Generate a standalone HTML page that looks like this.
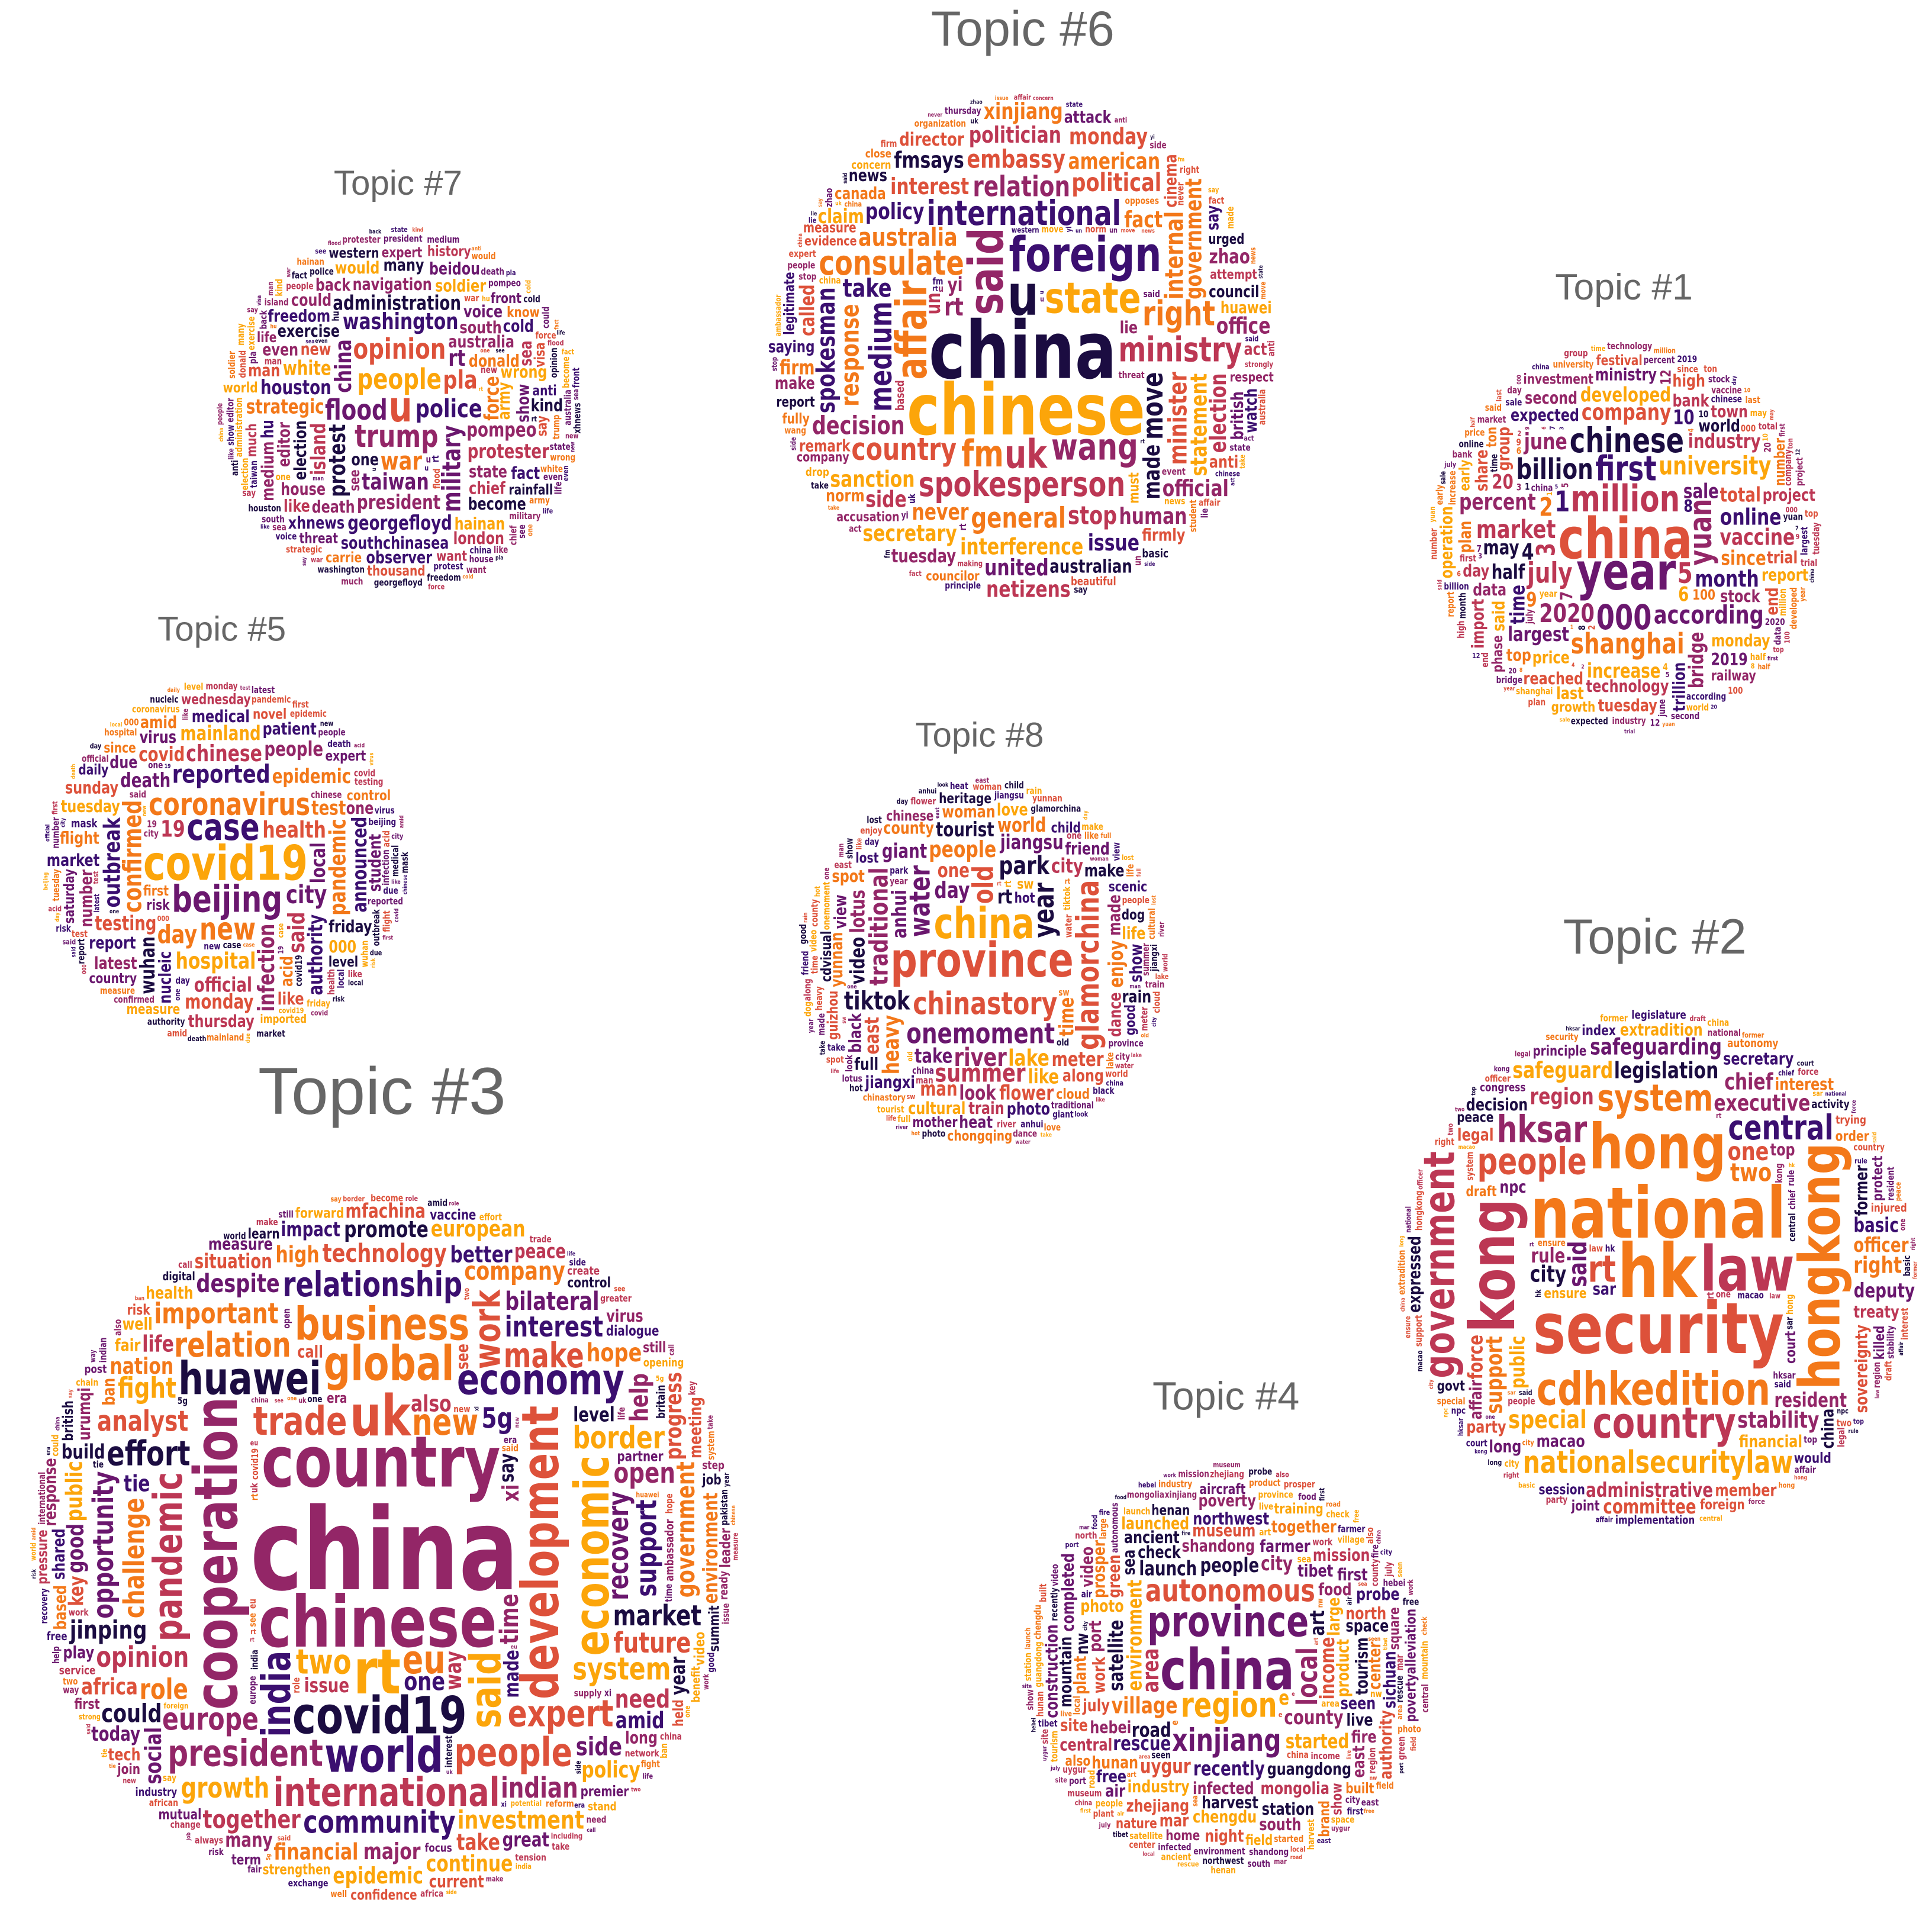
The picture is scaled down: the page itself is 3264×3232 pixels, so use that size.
<!DOCTYPE html>
<html>
<head>
<meta charset="utf-8">
<style>
html,body{margin:0;padding:0;background:#fff;}
#wrap{position:relative;width:3264px;height:3232px;overflow:hidden;background:#fff;}
svg{display:block;}
</style>
</head>
<body>
<div id="wrap">
<svg id="chart" width="3264" height="3232" viewBox="0 0 3264 3232" xmlns="http://www.w3.org/2000/svg"></svg>
</div>
<script>
// ---- data: word weights (display-scale font sizes) per topic ----
const topic6Words = [["china",56],["chinese",50],["u",40],["said",34],["foreign",34],["state",30],["affair",30],["uk",28],["fm",26],["wang",26],["spokesperson",24],["international",24],["consulate",24],["ministry",24],["right",24],["country",22],["medium",22],["relation",20],["general",20],["move",20],["response",18],["australia",18],["embassy",18],["minister",18],["internal",18],["political",18],["rt",18],["stop",18],["decision",18],["take",18],["spokesman",18],["interest",16],["statement",16],["interference",16],["fact",16],["policy",16],["never",16],["made",16],["sanction",16],["government",16],["election",16],["american",16],["fmsays",16],["politician",16],["secretary",16],["human",16],["side",16],["issue",16],["united",16],["official",16],["xinjiang",16],["monday",16],["australian",16],["office",16],["netizens",16],["director",16],["tuesday",16],["council",14],["evidence",14],["remark",14],["attempt",14],["canada",14],["claim",14],["huawei",14],["zhao",14],["saying",14],["accusation",14],["company",14],["yi",14],["firm",14],["called",14],["respect",14],["councilor",14],["un",14],["cinema",12],["british",12],["firmly",12],["make",12],["attack",12],["urged",12],["organization",12],["norm",12],["news",12],["report",12],["measure",12],["legitimate",12],["anti",12],["beautiful",12],["concern",12],["watch",12],["act",12],["opposes",12],["people",12],["everydayhero",12],["thursday",12],["lie",12],["say",12],["principle",12],["must",10],["based",10],["strongly",10],["student",10],["fully",10],["expert",10],["close",10],["western",10],["ambassador",10],["wednesday",10],["basic",10],["threat",10],["event",10],["drop",10],["making",10]];
const topic7Words = [["u",30],["trump",22],["people",20],["opinion",20],["flood",20],["police",18],["war",18],["military",18],["pla",18],["protest",16],["washington",16],["taiwan",16],["china",16],["rt",16],["president",14],["administration",14],["pompeo",14],["georgefloyd",14],["houston",14],["protester",14],["strategic",14],["island",14],["white",14],["force",14],["donald",12],["australia",12],["state",12],["new",12],["exercise",12],["election",12],["navigation",12],["southchinasea",12],["death",12],["south",12],["chief",12],["army",12],["house",12],["wrong",12],["become",12],["editor",12],["voice",12],["show",12],["one",12],["freedom",12],["hainan",12],["soldier",12],["xhnews",12],["even",12],["could",12],["many",12],["fact",12],["hu",12],["observer",12],["medium",12],["man",12],["back",12],["like",12],["london",12],["cold",12],["would",12],["kind",12],["sea",12],["beidou",12],["rainfall",10],["see",10],["much",10],["say",10],["anti",10],["threat",10],["expert",10],["thousand",10],["want",10],["front",10],["visa",10],["life",10],["carrie",10],["know",10],["history",10],["world",10],["western",10]];
const topic1Words = [["china",40],["year",36],["million",26],["first",24],["000",24],["chinese",24],["yuan",22],["shanghai",20],["july",20],["billion",20],["5",20],["1",20],["university",18],["according",18],["2020",18],["market",18],["3",18],["2",18],["month",16],["company",16],["percent",16],["vaccine",16],["online",16],["june",16],["4",16],["6",14],["largest",14],["sale",14],["since",14],["total",14],["increase",14],["industry",14],["half",14],["bridge",14],["developed",14],["time",14],["may",14],["10",14],["9",14],["20",14],["technology",12],["expected",12],["price",12],["stock",12],["world",12],["data",12],["group",12],["monday",12],["bank",12],["reached",12],["second",12],["said",12],["ministry",12],["day",12],["report",12],["tuesday",12],["trial",12],["trillion",12],["plan",12],["2019",12],["share",12],["project",12],["operation",12],["import",12],["end",12],["8",12],["7",12],["top",12],["town",12],["high",12],["last",12],["investment",10],["number",10],["phase",10],["100",10],["railway",10],["ton",10],["12",10],["festival",10],["growth",10],["early",10]];
const topic5Words = [["covid19",34],["case",26],["beijing",26],["coronavirus",22],["new",22],["confirmed",18],["reported",18],["city",18],["day",18],["health",16],["pandemic",16],["infection",16],["hospital",16],["outbreak",16],["chinese",16],["19",16],["said",16],["epidemic",14],["testing",14],["death",14],["authority",14],["official",14],["test",14],["wuhan",14],["people",14],["mainland",14],["covid",14],["monday",14],["announced",14],["local",14],["report",12],["tuesday",12],["friday",12],["patient",12],["virus",12],["nucleic",12],["acid",12],["medical",12],["market",12],["thursday",12],["number",12],["sunday",12],["flight",12],["student",12],["due",12],["000",12],["latest",12],["one",12],["like",12],["amid",12],["novel",10],["wednesday",10],["control",10],["level",10],["measure",10],["first",10],["risk",10],["country",10],["saturday",10],["expert",10],["since",10],["imported",10],["daily",10],["mask",8]];
const topic8Words = [["province",34],["china",30],["chinastory",22],["glamorchina",22],["water",20],["onemoment",20],["year",20],["old",20],["river",18],["park",18],["tiktok",18],["summer",18],["traditional",18],["people",16],["lake",16],["heavy",16],["day",16],["jiangsu",14],["rt",14],["anhui",14],["take",14],["look",14],["time",14],["tourist",14],["video",14],["like",14],["city",14],["flower",14],["giant",14],["east",14],["meter",14],["man",14],["world",14],["enjoy",14],["lotus",14],["one",14],["train",12],["jiangxi",12],["made",12],["cultural",12],["yunnan",12],["county",12],["dance",12],["woman",12],["black",12],["along",12],["photo",12],["make",12],["view",12],["friend",12],["show",12],["full",12],["spot",12],["love",12],["heat",12],["life",12],["rain",12],["cloud",10],["guizhou",10],["heritage",10],["lost",10],["dog",10],["child",10],["hot",10],["cdvisual",10],["chinese",10],["sw",10],["chongqing",10],["mother",10],["good",10],["scenic",10]];
const topic3Words = [["china",80],["country",50],["chinese",50],["rt",44],["cooperation",42],["uk",40],["development",36],["covid19",36],["economic",34],["global",34],["world",34],["business",32],["huawei",32],["said",30],["economy",30],["india",28],["trade",28],["international",28],["pandemic",28],["eu",28],["people",28],["president",26],["work",26],["expert",26],["new",26],["relationship",24],["relation",24],["make",24],["effort",24],["two",24],["border",22],["community",22],["europe",22],["system",22],["recovery",20],["opinion",20],["analyst",20],["important",20],["challenge",20],["role",20],["support",20],["interest",20],["market",20],["open",20],["growth",20],["opportunity",20],["future",20],["fight",20],["indian",20],["5g",20],["technology",18],["investment",18],["jinping",18],["bilateral",18],["company",18],["together",18],["government",18],["despite",18],["side",18],["hope",18],["time",18],["one",18],["need",18],["could",18],["help",18],["nation",16],["major",16],["good",16],["high",16],["better",16],["africa",16],["amid",16],["financial",16],["promote",16],["also",16],["take",16],["way",16],["continue",16],["epidemic",16],["public",16],["european",16],["social",16],["life",16],["policy",16],["progress",16],["tie",16],["xi",16],["say",14],["key",14],["issue",14],["situation",14],["level",14],["impact",14],["build",14],["great",14],["many",14],["environment",14],["mfachina",14],["today",14],["made",14],["year",14],["peace",14],["strengthen",12],["urumqi",12],["long",12],["partner",12],["dialogue",12],["measure",12],["confidence",12],["premier",12],["current",12],["health",12],["shared",12],["ban",12],["play",12],["call",12],["see",12],["control",12],["response",12],["fair",12],["based",12],["vaccine",12],["industry",12],["virus",12],["opening",12],["mutual",12],["tech",12],["meeting",12],["well",12],["video",10],["forward",10],["job",10],["learn",10],["summit",10],["supply",10],["service",10],["exchange",10],["pressure",10],["focus",10],["first",10],["potential",10],["held",10],["still",10],["leader",10],["british",10],["network",10],["era",10],["digital",10],["stand",10],["greater",10],["term",10],["reform",10],["create",10],["join",10],["ambassador",10],["britain",10],["change",10],["including",10],["benefit",10],["african",10],["always",10],["become",10],["step",10],["tension",10],["foreign",10],["post",10],["pakistan",10],["chain",10],["free",10],["ready",10],["experience",10],["improve",10],["risk",10],["political",10],["strong",8]];
const topic2Words = [["hk",52],["national",50],["security",50],["hong",44],["kong",44],["law",44],["hongkong",40],["cdhkedition",32],["government",30],["country",30],["people",26],["system",26],["hksar",26],["rt",26],["central",24],["nationalsecuritylaw",22],["special",18],["said",18],["two",18],["one",18],["legislation",16],["safeguarding",16],["executive",16],["stability",16],["support",16],["region",16],["safeguard",16],["chief",16],["city",16],["right",16],["administrative",14],["resident",14],["committee",14],["deputy",14],["officer",14],["rule",14],["public",14],["basic",14],["force",14],["treaty",12],["former",12],["financial",12],["secretary",12],["decision",12],["npc",12],["sovereignty",12],["member",12],["interest",12],["macao",12],["top",12],["legal",12],["expressed",12],["extradition",12],["implementation",12],["affair",12],["party",12],["long",12],["sar",12],["principle",12],["china",12],["court",10],["peace",10],["session",10],["autonomy",10],["foreign",10],["legislature",10],["ensure",10],["order",10],["activity",10],["injured",10],["govt",10],["killed",10],["would",10],["draft",10],["congress",10],["protect",10],["trying",10],["index",10],["joint",10]];
const topic4Words = [["china",40],["province",30],["region",24],["xinjiang",22],["autonomous",22],["local",20],["area",16],["village",16],["county",14],["environment",14],["income",14],["people",14],["road",14],["recently",14],["started",14],["launch",14],["rescue",14],["art",14],["city",14],["uygur",14],["satellite",14],["e",14],["infected",12],["product",12],["shandong",12],["guangdong",12],["harvest",12],["large",12],["industry",12],["work",12],["mongolia",12],["farmer",12],["hebei",12],["museum",12],["tibet",12],["food",12],["check",12],["photo",12],["port",12],["tourism",12],["chengdu",12],["seen",12],["july",12],["hunan",12],["northwest",12],["space",12],["zhejiang",12],["green",12],["plant",12],["live",12],["ancient",12],["center",12],["north",12],["mountain",12],["station",12],["prosper",12],["together",12],["launched",12],["mission",12],["central",12],["fire",12],["sichuan",12],["construction",12],["first",12],["free",12],["poverty",12],["completed",12],["east",12],["sea",12],["authority",12],["video",12],["nw",12],["south",12],["probe",12],["site",12],["mar",12],["air",12],["night",12],["square",10],["show",10],["povertyalleviation",10],["henan",10],["training",10],["home",10],["field",10],["nature",10],["also",10],["built",10],["brand",10],["aircraft",10]];

// cloud geometry (display coords of a 1568-wide preview; scaled below)
const clouds = [
  {name:"topic-6", title:"Topic #6", tx:830, ty:37, ts:40, cx:830, cy:283, r:207, words:topic6Words},
  {name:"topic-7", title:"Topic #7", tx:323, ty:158, ts:28, cx:325, cy:333, r:150, words:topic7Words},
  {name:"topic-1", title:"Topic #1", tx:1318, ty:243, ts:30, cx:1319, cy:436, r:160, words:topic1Words},
  {name:"topic-5", title:"Topic #5", tx:180, ty:520, ts:28, cx:183, cy:700, r:150, words:topic5Words},
  {name:"topic-8", title:"Topic #8", tx:795, ty:606, ts:28, cx:797, cy:782, r:152, words:topic8Words},
  {name:"topic-3", title:"Topic #3", tx:310, ty:904, ts:54, cx:312, cy:1256, r:288, words:topic3Words},
  {name:"topic-2", title:"Topic #2", tx:1343, ty:774, ts:40, cx:1345, cy:1030, r:212, words:topic2Words},
  {name:"topic-4", title:"Topic #4", tx:995, ty:1144, ts:32, cx:996, cy:1354, r:168, words:topic4Words}
];

const S = 3264/1568;
const SX = 0.78; // horizontal condensing of glyphs
const palette = ['#1b0c41','#3b0f70','#6a176e','#932667','#bc3754','#dd513a','#f37819','#fca50a'];
const FONT = '"DejaVu Sans","Liberation Sans",sans-serif';
const NS = 'http://www.w3.org/2000/svg';
const svg = document.getElementById('chart');
const ctx = document.createElement('canvas').getContext('2d');

function hash(s){let h=7;for(let i=0;i<s.length;i++){h=(h*31+s.charCodeAt(i))>>>0;}return h;}

function drawCloud(c, ci){
  const g = document.createElementNS(NS,'g');
  
  
  svg.appendChild(g);
  const title = document.createElementNS(NS,'text');
  
  
  title.setAttribute('x', c.tx*S);
  title.setAttribute('y', c.ty*S);
  title.setAttribute('text-anchor','middle');
  title.setAttribute('font-family','"Liberation Sans",sans-serif');
  title.setAttribute('font-size', c.ts*S);
  title.setAttribute('fill','#666666');
  title.textContent = c.title;
  g.appendChild(title);

  const R = c.r*S, cx = c.cx*S, cy = c.cy*S, cell = 4;
  const n = Math.ceil(2*R/cell)+2;
  const grid = new Uint8Array(n*n);
  const ox = cx-R, oy = cy-R;
  function free(L,T,W,H){
    const x0=Math.floor((L-ox)/cell), y0=Math.floor((T-oy)/cell);
    const x1=Math.ceil((L+W-ox)/cell), y1=Math.ceil((T+H-oy)/cell);
    if(x0<0||y0<0||x1>=n||y1>=n) return false;
    for(let y=y0;y<y1;y++){const row=y*n;for(let x=x0;x<x1;x++){if(grid[row+x])return false;}}
    return true;
  }
  function mark(L,T,W,H){
    const x0=Math.floor((L-ox)/cell), y0=Math.floor((T-oy)/cell);
    const x1=Math.ceil((L+W-ox)/cell), y1=Math.ceil((T+H-oy)/cell);
    for(let y=y0;y<y1;y++){for(let x=x0;x<x1;x++){grid[y*n+x]=1;}}
  }
  function inside(L,T,W,H){
    const corners=[[L,T],[L+W,T],[L,T+H],[L+W,T+H]];
    for(const p of corners){const dx=p[0]-cx,dy=p[1]-cy;if(dx*dx+dy*dy>R*R)return false;}
    return true;
  }
  function tryPlace(word, fs, rot, k0){
    ctx.font = 'bold '+fs+'px '+FONT;
    const m = ctx.measureText(word);
    const asc = m.actualBoundingBoxAscent || fs*0.76;
    const desc = m.actualBoundingBoxDescent || 0;
    const w = m.width*SX, h = asc+desc+1;
    const W = rot ? h : w, H = rot ? w : h;
    const maxK = Math.ceil((R/2.6)*(R/2.6))+50;
    for(let k=k0;k<maxK;k++){
      const rr = 2.6*Math.sqrt(k), a = k*2.39996323;
      const L = cx + rr*Math.cos(a) - W/2, T = cy + rr*Math.sin(a) - H/2;
      if(!inside(L,T,W,H)) continue;
      if(!free(L,T,W,H)) continue;
      mark(L,T,W,H);
      return {L,T,W,H,asc,w};
    }
    return null;
  }
  function emit(word, fs, rot, box, idx){
    const t = document.createElementNS(NS,'text');
    
    
    t.setAttribute('font-family', FONT);
    t.setAttribute('font-weight','bold');
    t.setAttribute('font-size', fs.toFixed(1));
    t.setAttribute('fill', palette[hash(word+c.name+idx)%palette.length]);
    if(rot){
      t.setAttribute('transform','translate('+(box.L+box.asc).toFixed(1)+','+(box.T+box.w).toFixed(1)+') rotate(-90) scale('+SX+',1)');
    } else {
      t.setAttribute('transform','translate('+box.L.toFixed(1)+','+(box.T+box.asc).toFixed(1)+') scale('+SX+',1)');
    }
    t.textContent = word;
    g.appendChild(t);
  }
  const words = c.words.slice().sort((a,b)=>b[1]-a[1]);
  words.forEach((wd,i)=>{
    const rot = i>1 && (hash(wd[0])%4===0);
    let fs = wd[1]*S*1.15;
    while(fs >= 6*S){
      const box = tryPlace(wd[0], fs, rot, 0);
      if(box){emit(wd[0], fs, rot, box, i);break;}
      fs *= 0.82;
    }
  });
  // filler passes with small repeats
  [7.5,6,4.8].forEach((sz,p)=>{
    words.forEach((wd,i)=>{
      const rot = (hash(wd[0]+p)%3===0);
      const box = tryPlace(wd[0], sz*S, rot, 0);
      if(box) emit(wd[0], sz*S, rot, box, i+1000*(p+1));
    });
  });
}
clouds.forEach(drawCloud);
</script>
</body>
</html>
